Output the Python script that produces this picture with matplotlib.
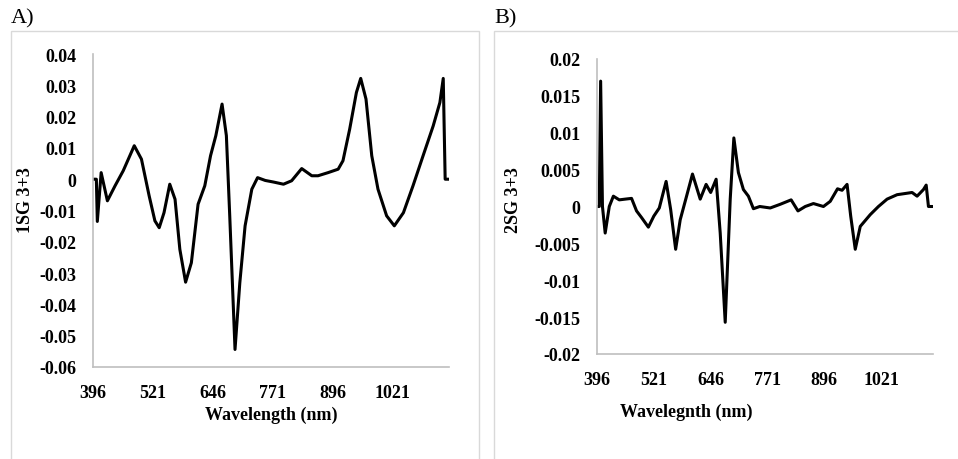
import matplotlib

matplotlib.use("Agg")
import matplotlib.pyplot as plt
from matplotlib.patches import Rectangle

# Panel A: first-derivative Savitzky-Golay (3+3) spectrum
wl_a = [396, 403, 405, 413, 426, 442, 459, 482, 497, 513, 525, 534, 544, 556,
        567, 577, 589, 601, 615, 629, 641, 652, 665, 674, 681, 692, 702, 713,
        727, 739, 755, 772, 793, 810, 831, 852, 865, 886, 907, 917, 931, 945,
        954, 965, 977, 990, 1008, 1024, 1043, 1063, 1084, 1105, 1119, 1126,
        1130, 1138]
sg1 = [0, 0, -0.0135, 0.0021, -0.0069, -0.0021, 0.0027, 0.0107, 0.0064,
       -0.0053, -0.0133, -0.0155, -0.0107, -0.0016, -0.0064, -0.0224, -0.0329,
       -0.0267, -0.008, -0.0021, 0.0075, 0.0139, 0.024, 0.0139, -0.0117,
       -0.0544, -0.0331, -0.0149, -0.0032, 0.0005, -0.0004, -0.0009, -0.0016,
       -0.0005, 0.0034, 0.0011, 0.0011, 0.0021, 0.0032, 0.0059, 0.016, 0.0277,
       0.0322, 0.0256, 0.0075, -0.0032, -0.0117, -0.0149, -0.0107, -0.0021,
       0.0075, 0.017, 0.0245, 0.0322, 0, 0]

# Panel B: second-derivative Savitzky-Golay (3+3) spectrum
wl_b = [396, 401, 404, 408, 414, 423, 432, 445, 458, 472, 483, 494, 509, 521,
        533, 548, 558, 569, 579, 593, 606, 623, 636, 646, 658, 667, 678, 689,
        697, 707, 718, 729, 740, 754, 777, 799, 823, 838, 854, 872, 894, 909,
        925, 935, 946, 954, 964, 975, 997, 1015, 1034, 1056, 1089, 1100, 1114,
        1120, 1125, 1134]
sg2 = [0, 0, 0.017, 0, -0.0036, 0, 0.0014, 0.0009, 0.001, 0.0011, -0.0006,
       -0.0015, -0.0028, -0.0013, -0.0002, 0.0034, -0.0004, -0.0058, -0.0018,
       0.0014, 0.0044, 0.001, 0.003, 0.0019, 0.0037, -0.0036, -0.0157, 0.001,
       0.0093, 0.0046, 0.0023, 0.0014, -0.0003, 0, -0.0002, 0.0003, 0.0009,
       -0.0006, 0, 0.0004, 0, 0.0007, 0.0024, 0.0022, 0.003, -0.0013, -0.0058,
       -0.0027, -0.0011, 0, 0.001, 0.0016, 0.0019, 0.0014, 0.0023, 0.0029, 0,
       0]

x_ticks = [396, 521, 646, 771, 896, 1021]
y_ticks_a = [0.04, 0.03, 0.02, 0.01, 0, -0.01, -0.02, -0.03, -0.04, -0.05, -0.06]
y_ticks_b = [0.02, 0.015, 0.01, 0.005, 0, -0.005, -0.01, -0.015, -0.02]

SERIF = ["Liberation Serif", "DejaVu Serif"]
W, H = 958, 460
FS = 13


def fx(px):
    return px / W


def fy(py):
    return 1 - py / H


def style_axes(ax, xlim, ylim, yticks):
    ax.set_xlim(*xlim)
    ax.set_ylim(*ylim)
    ax.set_xticks(x_ticks)
    ax.set_xticklabels([str(t) for t in x_ticks])
    ax.set_yticks(yticks)
    ax.set_yticklabels([f"{t:g}" for t in yticks])
    for side in ("top", "right"):
        ax.spines[side].set_visible(False)
    for side in ("left", "bottom"):
        ax.spines[side].set_color("#bfbfbf")
        ax.spines[side].set_linewidth(1.2)
    ax.tick_params(length=0, pad=12)
    for lab in ax.get_xticklabels() + ax.get_yticklabels():
        lab.set_family(SERIF)
        lab.set_fontweight("bold")
        lab.set_fontsize(FS)
    ax.patch.set_alpha(0)


fig = plt.figure(figsize=(W / 100, H / 100), dpi=100)

# grey panel frames
for left, width in ((11, 468), (494, 470)):
    fig.patches.append(Rectangle((fx(left), fy(470)), fx(width), (470 - 32) / H,
                                 transform=fig.transFigure, fill=False,
                                 edgecolor="#d9d9d9", linewidth=1.0))

ax_a = fig.add_axes([fx(93), fy(368), fx(449 - 93), (368 - 55) / H])
ax_a.plot(wl_a, sg1, color="black", linewidth=2.2,
          solid_joinstyle="round", solid_capstyle="round")
style_axes(ax_a, (396, 1138), (-0.06, 0.04), y_ticks_a)

ax_b = fig.add_axes([fx(597), fy(355), fx(933 - 597), (355 - 60) / H])
ax_b.plot(wl_b, sg2, color="black", linewidth=2.2,
          solid_joinstyle="round", solid_capstyle="round")
style_axes(ax_b, (396, 1135), (-0.02, 0.02), y_ticks_b)

txt = dict(family=SERIF, fontweight="bold", fontsize=FS)
fig.text(fx(271), fy(415), "Wavelength (nm)", ha="center", va="center", **txt)
fig.text(fx(686), fy(412), "Wavelegnth (nm)", ha="center", va="center", **txt)
fig.text(fx(25), fy(200), "1SG 3+3", rotation=90, ha="center", va="center", **txt)
fig.text(fx(513), fy(200), "2SG 3+3", rotation=90, ha="center", va="center", **txt)

fig.text(fx(11), fy(19), "A)", ha="left", va="center", family=SERIF, fontsize=16)
fig.text(fx(494), fy(19), "B)", ha="left", va="center", family=SERIF, fontsize=16)

fig.savefig("out.png", dpi=100)
